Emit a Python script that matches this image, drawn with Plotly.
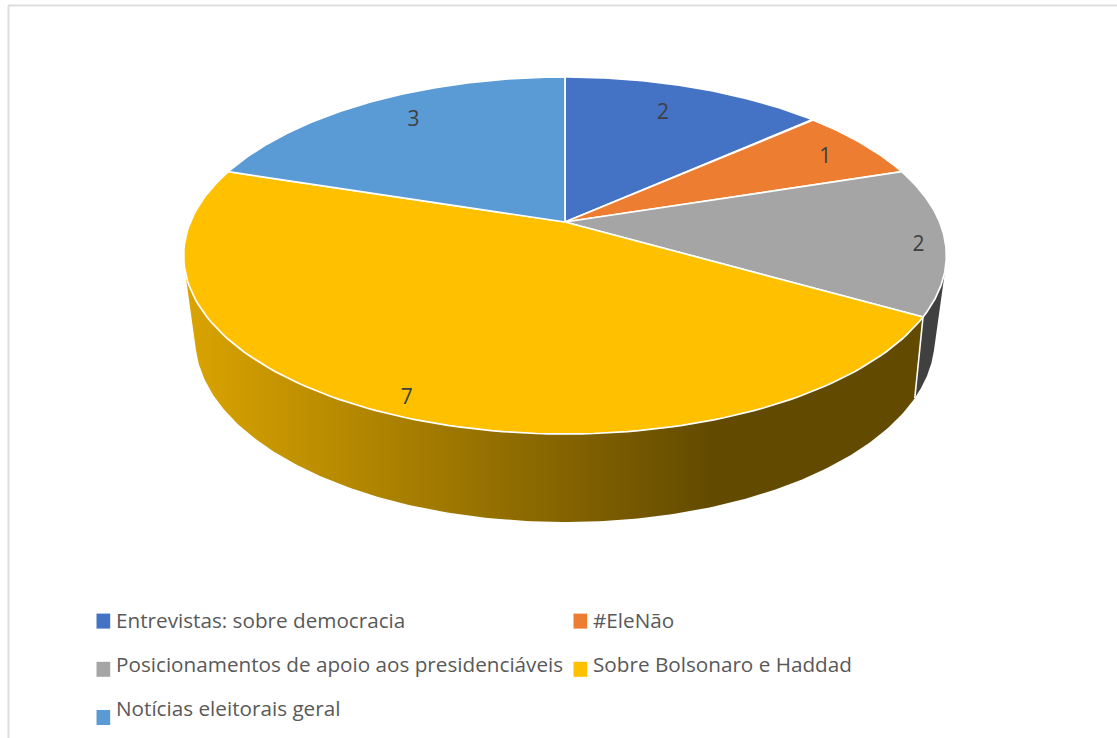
import numpy as np
import plotly.graph_objects as go

# Chart content
categories = [
    "Entrevistas: sobre democracia",
    "#EleNão",
    "Posicionamentos de apoio aos presidenciáveis",
    "Sobre Bolsonaro e Haddad",
    "Notícias eleitorais geral",
]
values = [2, 1, 2, 7, 3]
colors = ["#4472C4", "#ED7D31", "#A5A5A5", "#FFC000", "#5B9BD5"]
label_radii = [0.79, 0.86, 0.93, 0.92, 0.82]
label_turns = [-1.9, 0.7, 1.4, -1.3, 2.2]

# Perspective of the disc: top face and bottom face of the pie
CX = 565.0
TOP = dict(y0=222.0, a=374.6, b=172.2, tilt=0.1877)
BOTTOM = dict(y0=300.0, a=361.5, b=175.4, tilt=0.21)

WIDTH, HEIGHT = 1117, 738
FONT = "Open Sans"
LEGEND_SIZE = 20.7
LABEL_SIZE = 21
LABEL_DROP = 3


def project(theta_deg, radius, face):
    """Clockwise angle from 12 o'clock on a unit disc -> page position."""
    t = np.radians(theta_deg)
    u = radius * np.sin(t)
    v = radius * np.cos(t)
    w = 1 + face["tilt"] * v
    return CX + face["a"] * u / w, face["y0"] - face["b"] * v / w


def darkened(hex_color, factor):
    rgb = [int(hex_color[i:i + 2], 16) for i in (1, 3, 5)]
    return "rgb({},{},{})".format(*[round(c * factor) for c in rgb])


def convex_hull(points):
    """Monotone chain hull, returned as a closed loop."""
    pts = sorted(set(points))

    def half(seq):
        out = []
        for p in seq:
            while len(out) >= 2:
                (x1, y1), (x2, y2) = out[-2], out[-1]
                if (x2 - x1) * (p[1] - y1) - (y2 - y1) * (p[0] - x1) <= 0:
                    out.pop()
                else:
                    break
            out.append(p)
        return out

    lower, upper = half(pts), half(pts[::-1])
    loop = lower[:-1] + upper[:-1]
    return loop + loop[:1]


fractions = np.cumsum([0] + values) / sum(values) * 360
starts, ends = fractions[:-1], fractions[1:]

fig = go.Figure()

# Rim of the pie: one shape per visible slice, shaded left to right
for start, end, color in zip(starts, ends, colors):
    lo, hi = max(start, 85.0), min(end, 275.0)
    if lo >= hi:
        continue
    arc = np.linspace(lo, hi, 240)
    xt, yt = project(arc, 1, TOP)
    xb, yb = project(arc, 1, BOTTOM)
    loop = convex_hull(list(zip(np.r_[xt, xb].tolist(), np.r_[yt, yb].tolist())))
    fig.add_trace(go.Scatter(
        x=[p[0] for p in loop], y=[p[1] for p in loop],
        mode="lines", fill="toself",
        line=dict(width=0),
        fillgradient=dict(
            type="horizontal", start=186, stop=715,
            colorscale=[[0, darkened(color, 0.855)], [1, darkened(color, 0.385)]],
        ),
        hoverinfo="skip", showlegend=False,
    ))

# White seam on the rim between neighbouring slices
for edge in ends[:-1]:
    if 85 < edge < 275:
        xt, yt = project(edge, 1, TOP)
        xb, yb = project(edge, 1, BOTTOM)
        fig.add_trace(go.Scatter(
            x=[xt, xb], y=[yt, yb], mode="lines",
            line=dict(color="white", width=1.6),
            hoverinfo="skip", showlegend=False,
        ))

# Top face
for start, end, color in zip(starts, ends, colors):
    arc = np.linspace(start, end, 120)
    xs, ys = project(arc, 1, TOP)
    ax, ay = project(0, 0, TOP)
    fig.add_trace(go.Scatter(
        x=np.r_[ax, xs, ax], y=np.r_[ay, ys, ay],
        mode="lines", fill="toself", fillcolor=color,
        line=dict(color="white", width=1.7),
        hoverinfo="skip", showlegend=False,
    ))

# Value labels near the middle of each slice
mids = (starts + ends) / 2 + np.array(label_turns)
lx, ly = project(mids, np.array(label_radii), TOP)
fig.add_trace(go.Scatter(
    x=lx, y=ly + LABEL_DROP, mode="text", text=[str(v) for v in values],
    textposition="middle center",
    textfont=dict(family=FONT, size=LABEL_SIZE, color="#404040"),
    hoverinfo="skip", showlegend=False,
))

# Legend, filled row by row in two columns
key_columns = [96.5, 573.5]
text_columns = [114, 591]
key_tops = [613.6, 661.8, 710]
text_rows = [619.5, 663.5, 708]
for i, (name, color) in enumerate(zip(categories, colors)):
    col, row = i % 2, i // 2
    fig.add_shape(type="rect", xref="x", yref="y",
                  x0=key_columns[col], x1=key_columns[col] + 13.7,
                  y0=key_tops[row], y1=key_tops[row] + 15,
                  fillcolor=color, line_width=0)
    fig.add_annotation(x=text_columns[col], y=text_rows[row], text=name,
                       xanchor="left", yanchor="middle", showarrow=False,
                       font=dict(family=FONT, size=LEGEND_SIZE, color="#595959"))

# Chart frame: only the top and left edges fall on the page
fig.add_shape(type="line", x0=8.5, x1=8.5, y0=5.5, y1=HEIGHT,
              line=dict(color="#DEDEDE", width=2))
fig.add_shape(type="line", x0=8, x1=WIDTH, y0=5.5, y1=5.5,
              line=dict(color="#DEDEDE", width=2))

fig.update_layout(
    width=WIDTH, height=HEIGHT,
    margin=dict(l=0, r=0, t=0, b=0),
    paper_bgcolor="white", plot_bgcolor="white",
    xaxis=dict(range=[0, WIDTH], visible=False, fixedrange=True),
    yaxis=dict(range=[HEIGHT, 0], visible=False, fixedrange=True),
    showlegend=False,
)

fig.write_html("out.html", config=dict(displayModeBar=False))
